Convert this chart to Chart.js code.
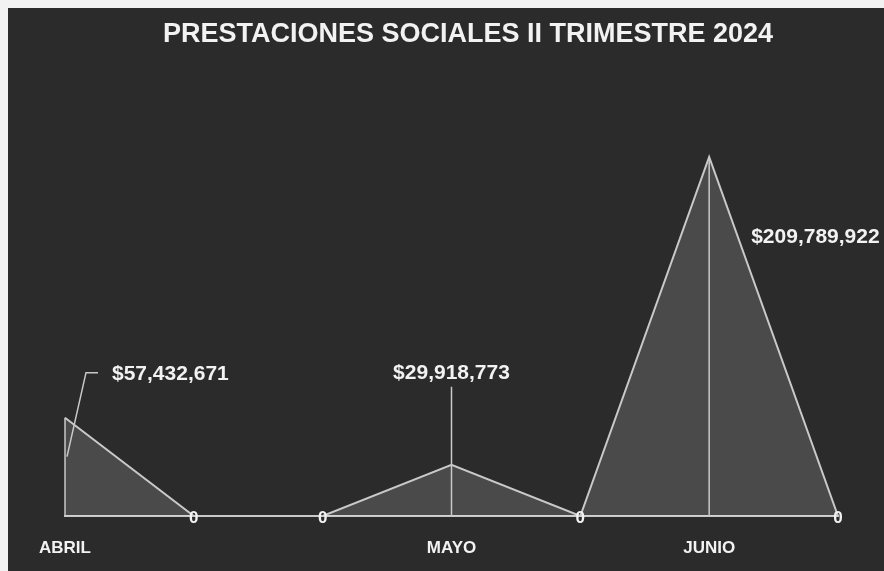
<!DOCTYPE html>
<html>
<head>
<meta charset="utf-8">
<title>Prestaciones sociales II trimestre 2024</title>
<script src="https://cdn.jsdelivr.net/npm/chart.js@4"></script>
<style>
  html, body { margin: 0; padding: 0; background: #f2f2f2; }
  #wrap { width: 884px; height: 571px; }
</style>
</head>
<body>
<div id="wrap"><canvas id="myChart" width="884" height="571"></canvas></div>
<script>
// data
const titulo = 'PRESTACIONES SOCIALES II TRIMESTRE 2024';
const categories = ['ABRIL', '', '', 'MAYO', '', 'JUNIO', ''];
const montos = [57432671, 0, 0, 29918773, 0, 209789922, 0];
const yMax = 250000000;

// where each value label sits, relative to its point (style only)
const labelStyle = {
    0: { dx: 47, dy: -43, align: 'left', leader: [[2, 39], [21, -45], [33, -45]] },
    3: { dx: 0, dy: -92, align: 'center', leader: [[0, -78], [0, 0]] },
    5: { dx: 42, dy: 80, align: 'left', leader: null }
};

const textColor = '#f2f2f2';
const lineColor = '#c9c9c9';
const fontFamily = '"Liberation Sans", Arial, sans-serif';

function formatMonto(v) {
    return '$' + v.toLocaleString('en-US');
}

const fondo = {
    id: 'fondo',
    beforeDraw(chart) {
        const ctx = chart.ctx;
        ctx.save();
        ctx.fillStyle = '#f2f2f2';
        ctx.fillRect(0, 0, chart.width, chart.height);
        ctx.fillStyle = '#2b2b2b';
        ctx.fillRect(8, 8, chart.width - 8, chart.height - 8);
        // title, centred on the dark panel rather than on the plot
        ctx.font = 'bold 27px ' + fontFamily;
        ctx.fillStyle = textColor;
        ctx.textAlign = 'center';
        ctx.textBaseline = 'middle';
        ctx.fillText(titulo, 468, 35);
        ctx.restore();
    }
};

const etiquetas = {
    id: 'etiquetas',
    afterDatasetsDraw(chart) {
        const ctx = chart.ctx;
        const xs = chart.scales.x;
        const ys = chart.scales.y;
        const base = ys.getPixelForValue(0);
        ctx.save();
        montos.forEach((v, i) => {
            const x = xs.getPixelForValue(i);
            const y = ys.getPixelForValue(v);
            if (v === 0) {
                ctx.font = 'bold 17px ' + fontFamily;
                ctx.fillStyle = textColor;
                ctx.textAlign = 'center';
                ctx.textBaseline = 'middle';
                ctx.fillText('0', x, y + 2);
                return;
            }
            // drop line from the peak to the base
            ctx.strokeStyle = lineColor;
            ctx.lineWidth = 1.5;
            ctx.beginPath();
            ctx.moveTo(x, y);
            ctx.lineTo(x, base);
            ctx.stroke();

            const st = labelStyle[i];
            if (st.leader) {
                ctx.beginPath();
                st.leader.forEach((p, k) => {
                    if (k === 0) ctx.moveTo(x + p[0], y + p[1]);
                    else ctx.lineTo(x + p[0], y + p[1]);
                });
                ctx.stroke();
            }
            ctx.font = 'bold 21px ' + fontFamily;
            ctx.fillStyle = textColor;
            ctx.textAlign = st.align;
            ctx.textBaseline = 'middle';
            ctx.fillText(formatMonto(v), x + st.dx, y + st.dy);
        });
        ctx.restore();
    }
};

const ctx = document.getElementById('myChart');
new Chart(ctx, {
    type: 'line',
    data: {
        labels: categories,
        datasets: [{
            data: montos,
            borderColor: lineColor,
            borderWidth: 2,
            backgroundColor: 'rgba(255, 255, 255, 0.15)',
            fill: 'origin',
            tension: 0,
            pointRadius: 0
        }]
    },
    options: {
        responsive: false,
        animation: false,
        layout: { padding: { left: 65, right: 46, top: 88, bottom: 15 } },
        plugins: {
            legend: { display: false },
            tooltip: { enabled: false },
            title: { display: false }
        },
        scales: {
            x: {
                offset: false,
                grid: { display: false, drawTicks: false },
                border: { display: true, color: lineColor, width: 2 },
                ticks: {
                    color: textColor,
                    autoSkip: false,
                    maxRotation: 0,
                    padding: 22,
                    font: { family: fontFamily, size: 17, weight: 'bold' }
                },
                afterFit(scale) { scale.height = 40; }
            },
            y: {
                display: false,
                min: 0,
                max: yMax
            }
        }
    },
    plugins: [fondo, etiquetas]
});
</script>
</body>
</html>
